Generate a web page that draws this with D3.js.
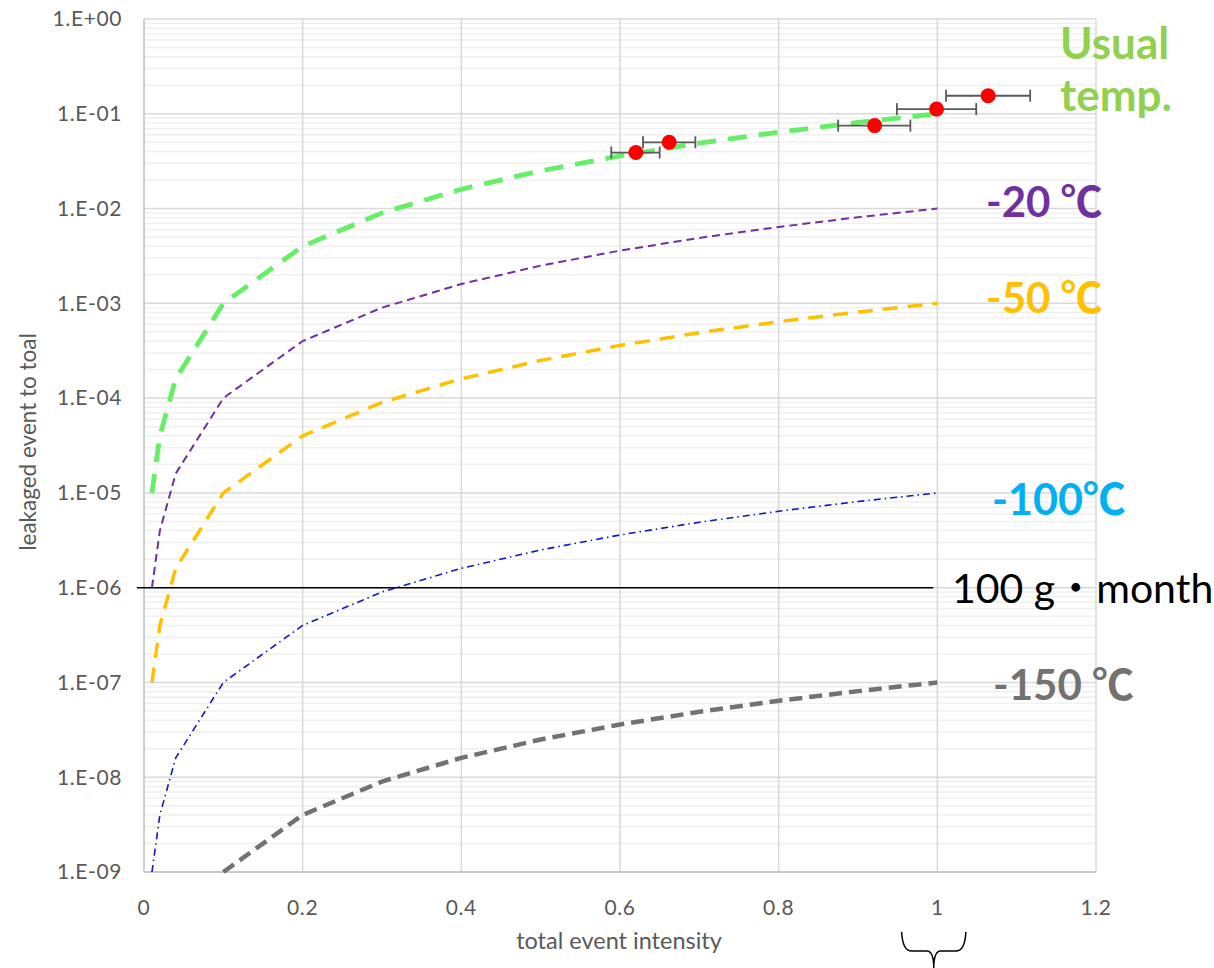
<!DOCTYPE html>
<html>
<head>
<meta charset="utf-8">
<script src="https://cdn.jsdelivr.net/npm/d3@7"></script>
<style>
  body { margin: 0; background: #fff; }
  .tick-label { font-family: Lato, sans-serif; font-size: 21px; fill: #595959; letter-spacing: 0.6px; }
  .axis-title { font-family: Lato, sans-serif; font-size: 22.5px; fill: #595959; }
  .big { font-family: Lato, "Noto Sans CJK JP", sans-serif; font-weight: bold; font-size: 42px; }
</style>
</head>
<body>
<div id="canvas"></div>
<script>
// DATA
const xs = [0.01, 0.02, 0.04, 0.1, 0.2, 0.3, 0.4, 0.5, 0.6, 0.7, 0.8, 0.9, 1.0];
const usualTemp = [1e-5, 4e-5, 1.6e-4, 1e-3, 4e-3, 9e-3, 1.6e-2, 2.5e-2, 3.6e-2, 4.9e-2, 6.4e-2, 8.1e-2, 1e-1];
const minus20 = [1e-6, 4e-6, 1.6e-5, 1e-4, 4e-4, 9e-4, 1.6e-3, 2.5e-3, 3.6e-3, 4.9e-3, 6.4e-3, 8.1e-3, 1e-2];
const minus50 = [1e-7, 4e-7, 1.6e-6, 1e-5, 4e-5, 9e-5, 1.6e-4, 2.5e-4, 3.6e-4, 4.9e-4, 6.4e-4, 8.1e-4, 1e-3];
const minus100 = [1e-9, 4e-9, 1.6e-8, 1e-7, 4e-7, 9e-7, 1.6e-6, 2.5e-6, 3.6e-6, 4.9e-6, 6.4e-6, 8.1e-6, 1e-5];
const xs150 = [0.1, 0.2, 0.3, 0.4, 0.5, 0.6, 0.7, 0.8, 0.9, 1.0];
const minus150 = [1e-9, 4e-9, 9e-9, 1.6e-8, 2.5e-8, 3.6e-8, 4.9e-8, 6.4e-8, 8.1e-8, 1e-7];

const measX = [0.62, 0.662, 0.921, 0.999, 1.064];
const measY = [0.039, 0.050, 0.075, 0.112, 0.155];
const measLo = [0.589, 0.629, 0.875, 0.949, 1.011];
const measHi = [0.650, 0.695, 0.966, 1.049, 1.117];

const limitX = [-0.009, 0.995];
const limitY = 1e-6;

const xTicks = [0, 0.2, 0.4, 0.6, 0.8, 1, 1.2];
const yTicks = [1, 1e-1, 1e-2, 1e-3, 1e-4, 1e-5, 1e-6, 1e-7, 1e-8, 1e-9];
const yTickLabels = ["1.E+00", "1.E-01", "1.E-02", "1.E-03", "1.E-04", "1.E-05", "1.E-06", "1.E-07", "1.E-08", "1.E-09"];

const braceRange = [0.955, 1.036];

function drawGraph() {

  // DIMENSIONS
  const width = 1214;
  const height = 968;
  const margin = { top: 19, bottom: 96, left: 144, right: 118 };
  const plot_width = width - margin.left - margin.right;
  const plot_height = height - margin.top - margin.bottom;

  const canvas = d3.select('#canvas')
    .append('svg')
    .attr('width', width)
    .attr('height', height);

  const plot = canvas.append('g')
    .attr("transform", `translate(${margin.left},${margin.top})`);

  // SCALES
  const scaleX = d3.scaleLinear().domain([0, 1.2]).range([0, plot_width]);
  const scaleY = d3.scaleLog().domain([1e-9, 1]).range([plot_height, 0]);

  // GRID - minor lines
  const minor = [];
  for (let e = -9; e < 0; e++) {
    for (let m = 2; m <= 9; m++) minor.push(m * Math.pow(10, e));
  }
  plot.selectAll('.minor').data(minor).enter()
    .append('line')
    .attr('class', 'minor')
    .attr('x1', 0).attr('x2', plot_width)
    .attr('y1', d => scaleY(d)).attr('y2', d => scaleY(d))
    .style('stroke', '#f0f0f0').style('stroke-width', 1.5);

  plot.selectAll('.major').data(yTicks).enter()
    .append('line')
    .attr('class', 'major')
    .attr('x1', 0).attr('x2', plot_width)
    .attr('y1', d => scaleY(d)).attr('y2', d => scaleY(d))
    .style('stroke', '#d9d9d9').style('stroke-width', 1.5);

  plot.selectAll('.vgrid').data(xTicks).enter()
    .append('line')
    .attr('class', 'vgrid')
    .attr('x1', d => scaleX(d)).attr('x2', d => scaleX(d))
    .attr('y1', 0).attr('y2', plot_height)
    .style('stroke', d => d === 0 ? '#bfbfbf' : '#d9d9d9').style('stroke-width', 1.5);

  plot.append('line')
    .attr('x1', 0).attr('x2', plot_width)
    .attr('y1', plot_height).attr('y2', plot_height)
    .style('stroke', '#bfbfbf').style('stroke-width', 1.5);

  // TICK LABELS
  plot.selectAll('.ylab').data(yTicks).enter()
    .append('text')
    .attr('class', 'tick-label')
    .attr('x', -22)
    .attr('y', d => scaleY(d))
    .attr('dy', '0.35em')
    .style('text-anchor', 'end')
    .text((d, i) => yTickLabels[i]);

  plot.selectAll('.xlab').data(xTicks).enter()
    .append('text')
    .attr('class', 'tick-label')
    .attr('x', d => scaleX(d))
    .attr('y', plot_height + 43)
    .style('text-anchor', 'middle')
    .text(d => d3.format("~g")(d));

  // AXIS TITLES
  canvas.append('text')
    .attr('class', 'axis-title')
    .style('font-size', '23.5px')
    .attr('x', margin.left + scaleX(0.6) - 1)
    .attr('y', 949)
    .style('text-anchor', 'middle')
    .text('total event intensity');

  canvas.append('text')
    .attr('class', 'axis-title')
    .attr('transform', 'translate(36,442) rotate(-90)')
    .style('text-anchor', 'middle')
    .text('leakaged event to toal');

  // LIMIT LINE
  plot.append('line')
    .attr('x1', scaleX(limitX[0])).attr('x2', scaleX(limitX[1]))
    .attr('y1', scaleY(limitY)).attr('y2', scaleY(limitY))
    .style('stroke', '#000').style('stroke-width', 1.5);

  // CURVES
  const line = d3.line().x(d => scaleX(d[0])).y(d => scaleY(d[1]));
  const series = [
    { x: xs150, y: minus150, color: '#767171', w: 4.5, dash: '13 7' },
    { x: xs, y: minus100, color: '#1414c8', w: 1.6, dash: '7 4 1.5 4' },
    { x: xs, y: minus50, color: '#ffc000', w: 3.5, dash: '15 10' },
    { x: xs, y: minus20, color: '#7030a0', w: 2, dash: '8 5' },
    { x: xs, y: usualTemp, color: '#66ee66', w: 4.8, dash: '19 12' }
  ];
  series.forEach(s => {
    plot.append('path')
      .datum(s.x.map((x, i) => [x, s.y[i]]))
      .attr('d', line)
      .style('fill', 'none')
      .style('stroke', s.color)
      .style('stroke-width', s.w)
      .style('stroke-dasharray', s.dash);
  });

  // MEASUREMENTS WITH ERROR BARS
  const meas = measX.map((x, i) => ({ x: x, y: measY[i], lo: measLo[i], hi: measHi[i] }));
  const eb = plot.selectAll('.eb').data(meas).enter().append('g').attr('class', 'eb')
    .style('stroke', '#595959').style('stroke-width', 1.8);
  eb.append('line')
    .attr('x1', d => scaleX(d.lo)).attr('x2', d => scaleX(d.hi))
    .attr('y1', d => scaleY(d.y)).attr('y2', d => scaleY(d.y));
  eb.append('line')
    .attr('x1', d => scaleX(d.lo)).attr('x2', d => scaleX(d.lo))
    .attr('y1', d => scaleY(d.y) - 6).attr('y2', d => scaleY(d.y) + 6);
  eb.append('line')
    .attr('x1', d => scaleX(d.hi)).attr('x2', d => scaleX(d.hi))
    .attr('y1', d => scaleY(d.y) - 6).attr('y2', d => scaleY(d.y) + 6);

  plot.selectAll('.pt').data(meas).enter()
    .append('circle')
    .attr('class', 'pt')
    .attr('cx', d => scaleX(d.x))
    .attr('cy', d => scaleY(d.y))
    .attr('r', 7.5)
    .style('fill', '#ff0000');

  // LABELS
  const labels = [
    { t: 'Usual', x: 1060, y: 59, c: '#92d050', bold: true, s: 44 },
    { t: 'temp.', x: 1060, y: 111, c: '#92d050', bold: true, s: 44 },
    { t: '-20 ℃', x: 986, y: 217, c: '#7030a0', bold: true, s: 42 },
    { t: '-50 ℃', x: 986, y: 313, c: '#ffc000', bold: true, s: 42 },
    { t: '-100℃', x: 992, y: 515, c: '#00b0f0', bold: true, s: 43 },
    { t: '-150 ℃', x: 993, y: 700, c: '#767171', bold: true, s: 42 },
    { t: '100 g・month', x: 952, y: 603, c: '#000000', bold: false, s: 41 }
  ];
  canvas.selectAll('.big').data(labels).enter()
    .append('text')
    .attr('class', 'big')
    .attr('x', d => d.x)
    .attr('y', d => d.y)
    .style('fill', d => d.c)
    .style('font-size', d => d.s + 'px')
    .style('font-weight', d => d.bold ? 'bold' : 'normal')
    .text(d => d.t);

  // BRACE under x=1
  const bx0 = margin.left + scaleX(braceRange[0]);
  const bx1 = margin.left + scaleX(braceRange[1]);
  const bm = (bx0 + bx1) / 2;
  canvas.append('path')
    .attr('d', `M${bx0},932 Q${bx0 + 1},951 ${bx0 + 10},951 L${bm - 7},951 Q${bm},951 ${bm},968` +
               ` M${bx1},932 Q${bx1 - 1},951 ${bx1 - 10},951 L${bm + 7},951 Q${bm},951 ${bm},968`)
    .style('fill', 'none')
    .style('stroke', '#000')
    .style('stroke-width', 1.5);
}

drawGraph();
</script>
</body>
</html>
